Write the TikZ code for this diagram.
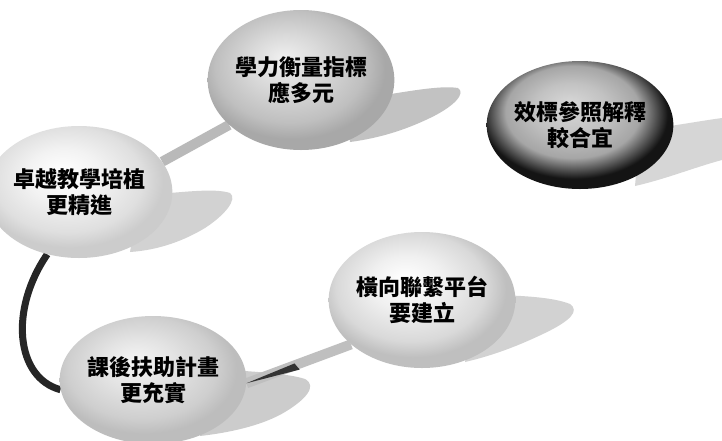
\documentclass[tikz,border=0pt]{standalone}
\usepackage{fontspec}
\newfontfamily\cjk{Noto Sans CJK TC}
\usetikzlibrary{shapes.geometric,backgrounds,calc}
\pgfdeclareradialshading{ballA}{\pgfpoint{-5bp}{8bp}}{color(0bp)=(gray!12); color(10bp)=(gray!30); color(20bp)=(gray!50); color(25bp)=(gray!68); color(50bp)=(gray!68)}
\pgfdeclareradialshading{ballB}{\pgfpoint{-5bp}{8bp}}{color(0bp)=(white); color(10bp)=(gray!10); color(20bp)=(gray!25); color(25bp)=(gray!40); color(50bp)=(gray!40)}
\pgfdeclareradialshading{ballC}{\pgfpoint{-5bp}{8bp}}{color(0bp)=(white); color(10bp)=(gray!12); color(20bp)=(gray!30); color(25bp)=(gray!50); color(50bp)=(gray!50)}
\pgfdeclareradialshading{ballD}{\pgfpoint{-5bp}{8bp}}{color(0bp)=(gray!8); color(10bp)=(gray!22); color(20bp)=(gray!38); color(25bp)=(gray!52); color(50bp)=(gray!52)}
\pgfdeclareradialshading{ballE}{\pgfpoint{-3bp}{8bp}}{color(0bp)=(gray!30); color(10bp)=(gray!48); color(18bp)=(gray!70); color(25bp)=(black!92); color(50bp)=(black!92)}
\tikzset{
  ball/.style={ellipse, inner sep=0pt, align=center, text=black,
    font=\cjk\bfseries\fontsize{22}{26}\selectfont},
  tail/.style={draw=none},
  band/.style={line width=10pt, gray!55},
  blackband/.style={line width=7pt, black!85},
}
\begin{document}
\begin{tikzpicture}[x=1pt,y=-1pt]
\useasboundingbox (0,0) rectangle (722,440);
\node[ball, shading=ballA, minimum width=150pt, minimum height=140pt] (a) at (301,80) {學力衡量指標\\應多元};
\node[ball, shading=ballB, minimum width=154pt, minimum height=132pt] (b) at (79,192) {卓越教學培植\\更精進};
\node[ball, shading=ballC, minimum width=160pt, minimum height=136pt] (c) at (422,300) {橫向聯繫平台\\要建立};
\node[ball, shading=ballD, minimum width=146pt, minimum height=128pt] (d) at (153,380) {課後扶助計畫\\更充實};
\node[ball, shading=ballE, minimum width=148pt, minimum height=128pt] (e) at (580,125) {效標參照解釋\\較合宜};
\begin{scope}[on background layer]
\fill[white] (0,0) rectangle (722,440);
\begin{scope}
\clip (0,0) rectangle (722,440);
% tails
\fill[tail, gray!48] (345,96) -- (372,97) .. controls (405,92) and (440,85) .. (458,88) .. controls (466,93) and (455,106) .. (430,118) .. controls (405,130) and (380,138) .. (350,142) -- cycle;
\fill[tail, gray!35] (140,195) -- (157,194) .. controls (185,192) and (215,188) .. (230,193) .. controls (238,199) and (225,215) .. (205,228) .. controls (185,240) and (160,250) .. (130,252) -- cycle;
\fill[tail, gray!35] (480,296) -- (498,295) .. controls (530,296) and (555,298) .. (570,304) .. controls (580,311) and (570,321) .. (545,333) .. controls (520,345) and (495,355) .. (465,362) -- cycle;
\fill[tail, gray!40] (215,372) -- (230,370) .. controls (260,372) and (290,374) .. (305,379) .. controls (318,386) and (305,400) .. (285,412) .. controls (265,424) and (235,432) .. (200,436) -- cycle;
\fill[tail, gray!32] (640,130) -- (655,128) .. controls (680,125) and (705,120) .. (730,117) -- (730,158) .. controls (700,165) and (670,178) .. (635,186) -- cycle;
\end{scope}
% connectors
\draw[band] (b.20) -- (a.212);
\draw[blackband] (b.243) .. controls +(-38,55) and +(-45,-12) .. (d.186);
\draw[band, gray!50] (c.212) -- (d.-2);
\fill[black!80] (d.-2) -- ($(d.-2)!55pt!-6:(c.212)$) -- ($(d.-2)!52pt!2:(c.212)$) -- cycle;
\end{scope}
\end{tikzpicture}
\end{document}
